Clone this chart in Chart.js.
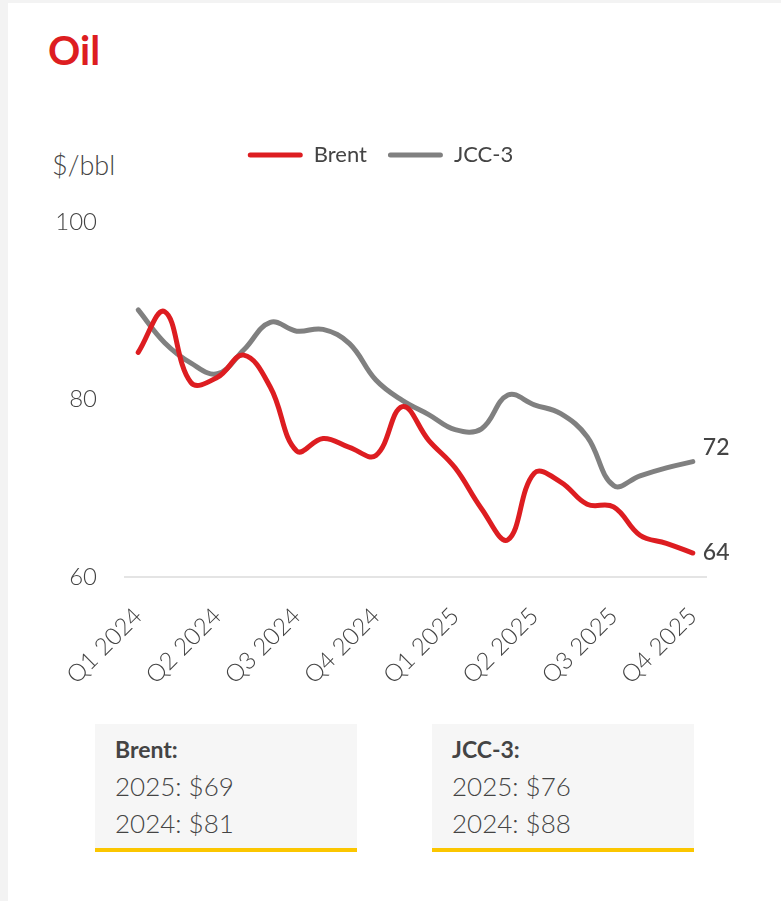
<!DOCTYPE html>
<html>
<head>
<meta charset="utf-8">
<script src="https://cdn.jsdelivr.net/npm/chart.js@4.4.1/dist/chart.umd.min.js"></script>
<style>
    body { margin: 0; background: #f3f3f3; font-family: Lato, sans-serif; color: #444; }
    .tarjeta { position: absolute; left: 8px; top: 3px; right: 0; bottom: 0; background: #fff; }
    .titulo { position: absolute; left: 48px; top: 30px; font: 700 40px/1 Lato, sans-serif; color: #dd1d21; }
    .unidad { position: absolute; left: 52px; top: 151px; font: 300 27px/1 Lato, sans-serif; }
    .grafica { position: absolute; left: 55px; top: 115px; width: 726px; height: 600px; }
    .resumen { position: absolute; top: 724px; width: 242px; height: 117px; padding: 7px 0 0 20px;
               background: #f6f6f6; border-bottom: 4px solid #fbc600; }
    .resumen div { line-height: 37px; font: 300 26px/37px Lato, sans-serif; }
    .resumen div.cab { font: 700 23px/37px Lato, sans-serif; }
</style>
</head>
<body>
<div class="tarjeta"></div>
<div class="titulo">Oil</div>
<div class="unidad">$/bbl</div>
<div class="grafica"><canvas id="graficaPetroleo"></canvas></div>
<div id="resumenes"></div>
<script>
// eje x: una posición por mes, etiqueta cada trimestre
const categorias = [
    "Q1 2024", "", "", "Q2 2024", "", "", "Q3 2024", "", "", "Q4 2024", "", "",
    "Q1 2025", "", "", "Q2 2025", "", "", "Q3 2025", "", "", "Q4 2025",
];
const brent = [85.3, 89.9, 81.9, 82.5, 85.0, 81.4, 74.2, 75.6, 74.6, 73.7, 79.2,
               75.4, 72.3, 67.7, 64.2, 71.7, 70.7, 68.2, 67.9, 64.7, 63.8, 62.7];
const jcc3 = [90.1, 86.4, 84.1, 82.9, 85.6, 88.7, 87.7, 87.9, 86.3, 82.2, 79.9,
              78.3, 76.6, 76.7, 80.5, 79.4, 78.4, 75.8, 70.3, 71.4, 72.3, 73.0];
const etiquetasFinales = ["64", "72"];
const ticksY = [60, 80, 100];

const anios = ["2025", "2024"];
const promedioBrent = [69, 81];
const promedioJcc = [76, 88];

Chart.defaults.font.family = "Lato, sans-serif";
Chart.defaults.color = "#444";

// cajas de resumen
const resumenes = [
    { nombre: "Brent", valores: promedioBrent, left: 95 },
    { nombre: "JCC-3", valores: promedioJcc, left: 432 },
];
const cont = document.getElementById("resumenes");
resumenes.forEach((r) => {
    const caja = document.createElement("div");
    caja.className = "resumen";
    caja.style.left = r.left + "px";
    let html = `<div class="cab">${r.nombre}:</div>`;
    anios.forEach((a, i) => { html += `<div>${a}: $${r.valores[i]}</div>`; });
    caja.innerHTML = html;
    cont.appendChild(caja);
});

const etiquetasFin = {
    id: "etiquetasFin",
    afterDatasetsDraw(chart) {
        const ctx = chart.ctx;
        chart.data.datasets.forEach((ds, i) => {
            const meta = chart.getDatasetMeta(i);
            const ultimo = meta.data[meta.data.length - 1];
            ctx.save();
            ctx.font = "500 23px Lato, sans-serif";
            ctx.fillStyle = "#444";
            ctx.textBaseline = "middle";
            ctx.fillText(etiquetasFinales[i], ultimo.x + 10, ultimo.y + ds.desfaseEtiqueta);
            ctx.restore();
        });
    },
};

// más espacio entre leyenda y gráfica
const altoLeyenda = {
    id: "altoLeyenda",
    beforeInit(chart) {
        const fit = chart.legend.fit;
        chart.legend.fit = function () {
            fit.bind(chart.legend)();
            this.height = 99;
        };
    },
};

new Chart(document.getElementById("graficaPetroleo"), {
    type: "line",
    data: {
        labels: categorias,
        datasets: [
            {
                label: "Brent",
                data: brent,
                borderColor: "#dd1d21",
                backgroundColor: "#dd1d21",
                desfaseEtiqueta: 0,
            },
            {
                label: "JCC-3",
                data: jcc3,
                borderColor: "#808080",
                backgroundColor: "#808080",
                desfaseEtiqueta: -14,
            },
        ],
    },
    options: {
        responsive: true,
        maintainAspectRatio: false,
        animation: false,
        layout: { padding: { top: 8, right: 75, bottom: 8, left: 0 } },
        elements: {
            line: { borderWidth: 5, tension: 0.4, borderCapStyle: "round", borderJoinStyle: "round" },
            point: { radius: 0 },
        },
        plugins: {
            tooltip: { enabled: false },
            legend: {
                labels: {
                    boxWidth: 55,
                    boxHeight: 5,
                    useBorderRadius: true,
                    borderRadius: 2.5,
                    padding: 21,
                    font: { size: 22 },
                    generateLabels(chart) {
                        return Chart.defaults.plugins.legend.labels
                            .generateLabels(chart)
                            .map((l) => ({ ...l, lineWidth: 0 }));
                    },
                },
            },
        },
        scales: {
            x: {
                offset: true,
                grid: { display: false, drawTicks: false },
                border: { display: true, color: "#e4e4e4", width: 2 },
                ticks: {
                    autoSkip: false,
                    maxRotation: 45,
                    minRotation: 45,
                    padding: 25,
                    font: { size: 24, weight: 300 },
                },
                afterFit(scale) {
                    scale.height = 130;
                    scale.paddingLeft = 0;
                    scale.paddingRight = 0;
                },
            },
            y: {
                min: 60,
                max: 100,
                grid: { display: false, drawTicks: false },
                border: { display: false },
                afterBuildTicks(scale) { scale.ticks = ticksY.map((v) => ({ value: v })); },
                ticks: { padding: 28, font: { size: 24, weight: 300 } },
                afterFit(scale) { scale.width = 70; },
            },
        },
    },
    plugins: [etiquetasFin, altoLeyenda],
});
</script>
</body>
</html>
